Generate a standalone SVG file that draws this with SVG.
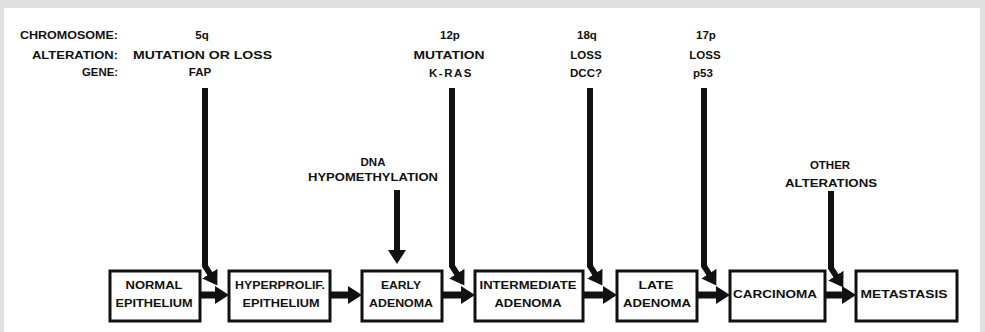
<svg xmlns="http://www.w3.org/2000/svg" width="985" height="332" viewBox="0 0 985 332">
<style>
.t{font-family:"Liberation Sans",Arial,sans-serif;font-weight:bold;font-size:11.5px;fill:#111;text-anchor:middle}
.r{text-anchor:end}
.box{fill:#fff;stroke:#111;stroke-width:3}
.c{fill:none;stroke:#111;stroke-width:6}
.h{fill:none;stroke:#111;stroke-width:7}
</style>
<defs>
<marker id="ah" markerUnits="userSpaceOnUse" markerWidth="16" markerHeight="20" refX="4" refY="10" orient="auto" viewBox="0 0 16 20">
<path d="M0,1 L14,10 L0,19 z" fill="#111"/>
</marker>
</defs>
<rect x="0" y="0" width="985" height="332" fill="#e0e0e0"/>
<rect x="4" y="8" width="976" height="324" fill="#fff"/>

<g id="legend">
<text class="t r" x="118" y="39" textLength="98" lengthAdjust="spacingAndGlyphs">CHROMOSOME:</text>
<text class="t r" x="118" y="59" textLength="86" lengthAdjust="spacingAndGlyphs">ALTERATION:</text>
<text class="t r" x="118" y="76" textLength="36" lengthAdjust="spacingAndGlyphs">GENE:</text>
</g>
<g id="label-5q">
<text class="t" x="202" y="39">5q</text>
<text class="t" x="202.5" y="59" textLength="139" lengthAdjust="spacingAndGlyphs">MUTATION OR LOSS</text>
<text class="t" x="200" y="76">FAP</text>
</g>
<g id="label-12p">
<text class="t" x="450" y="39">12p</text>
<text class="t" x="449" y="59" textLength="71" lengthAdjust="spacingAndGlyphs">MUTATION</text>
<text class="t" x="451" y="77" letter-spacing="1.5">K-RAS</text>
</g>
<g id="label-18q">
<text class="t" x="587" y="39">18q</text>
<text class="t" x="586" y="59">LOSS</text>
<text class="t" x="586" y="77">DCC?</text>
</g>
<g id="label-17p">
<text class="t" x="706" y="39">17p</text>
<text class="t" x="705" y="59">LOSS</text>
<text class="t" x="703" y="77">p53</text>
</g>
<g id="label-dna">
<text class="t" x="373" y="166">DNA</text>
<text class="t" x="373" y="181" textLength="130" lengthAdjust="spacingAndGlyphs">HYPOMETHYLATION</text>
</g>
<g id="label-other">
<text class="t" x="830" y="169">OTHER</text>
<text class="t" x="831" y="187" textLength="92" lengthAdjust="spacingAndGlyphs">ALTERATIONS</text>
</g>

<g id="connectors">
<path class="c" d="M205,88 V266 L212,277" marker-end="url(#ah)"/>
<path class="c" d="M452,88 V266 L459,277" marker-end="url(#ah)"/>
<path class="c" d="M590,88 V266 L597,277" marker-end="url(#ah)"/>
<path class="c" d="M704,88 V266 L711,277" marker-end="url(#ah)"/>
<path class="c" d="M831,191 V268 L838,279" marker-end="url(#ah)"/>
<path class="c" d="M397,190 V254" marker-end="url(#ah)"/>
<path class="h" d="M200,295 H219" marker-end="url(#ah)"/>
<path class="h" d="M330,295 H352" marker-end="url(#ah)"/>
<path class="h" d="M442,295 H465" marker-end="url(#ah)"/>
<path class="h" d="M583,295 H607" marker-end="url(#ah)"/>
<path class="h" d="M697,295 H720" marker-end="url(#ah)"/>
<path class="h" d="M825,295 H846" marker-end="url(#ah)"/>
</g>

<g id="normal-epithelium">
<rect class="box" x="110" y="271" width="90" height="50"/>
<text class="t" x="154" y="289" textLength="57" lengthAdjust="spacingAndGlyphs">NORMAL</text>
<text class="t" x="154" y="307" textLength="77" lengthAdjust="spacingAndGlyphs">EPITHELIUM</text>
</g>
<g id="hyperprolif-epithelium">
<rect class="box" x="229" y="271" width="101" height="50"/>
<text class="t" x="280" y="289" textLength="90" lengthAdjust="spacingAndGlyphs">HYPERPROLIF.</text>
<text class="t" x="281" y="307" textLength="77" lengthAdjust="spacingAndGlyphs">EPITHELIUM</text>
</g>
<g id="early-adenoma">
<rect class="box" x="362" y="271" width="80" height="50"/>
<text class="t" x="401" y="289" textLength="40" lengthAdjust="spacingAndGlyphs">EARLY</text>
<text class="t" x="401" y="307" textLength="64" lengthAdjust="spacingAndGlyphs">ADENOMA</text>
</g>
<g id="intermediate-adenoma">
<rect class="box" x="475" y="271" width="108" height="50"/>
<text class="t" x="528" y="289" textLength="97" lengthAdjust="spacingAndGlyphs">INTERMEDIATE</text>
<text class="t" x="528" y="307" textLength="67" lengthAdjust="spacingAndGlyphs">ADENOMA</text>
</g>
<g id="late-adenoma">
<rect class="box" x="617" y="271" width="80" height="50"/>
<text class="t" x="656" y="289" textLength="35" lengthAdjust="spacingAndGlyphs">LATE</text>
<text class="t" x="657" y="307" textLength="68" lengthAdjust="spacingAndGlyphs">ADENOMA</text>
</g>
<g id="carcinoma">
<rect class="box" x="730" y="271" width="95" height="50"/>
<text class="t" x="775" y="298" textLength="84" lengthAdjust="spacingAndGlyphs">CARCINOMA</text>
</g>
<g id="metastasis">
<rect class="box" x="856" y="271" width="101" height="50"/>
<text class="t" x="904" y="298" textLength="87" lengthAdjust="spacingAndGlyphs">METASTASIS</text>
</g>
</svg>
